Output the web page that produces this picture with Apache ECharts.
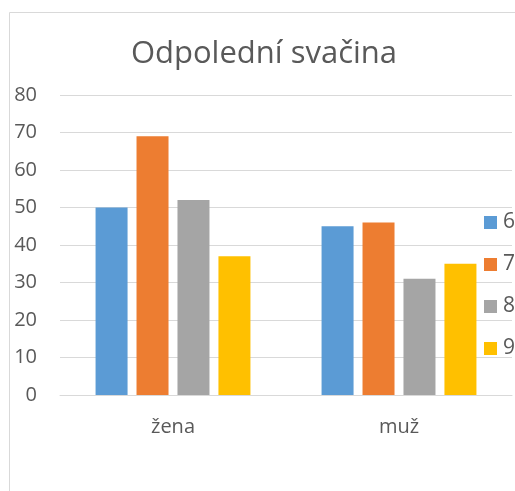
<!DOCTYPE html>
<html>
<head>
<meta charset="utf-8">
<script src="https://cdn.jsdelivr.net/npm/echarts@6/dist/echarts.min.js"></script>
<style>
  html, body { margin: 0; padding: 0; background: #fff; }
  #chart { width: 515px; height: 491px; }
</style>
</head>
<body>
<div id="chart"></div>
<script>
window.addEventListener("load", () => {
    // data
    const categories = ["žena", "muž"]
    const seriesNames = ["6", "7", "8", "9"]
    const values6 = [50, 45]
    const values7 = [69, 46]
    const values8 = [52, 31]
    const values9 = [37, 35]
    const colors = ["#5B9BD5", "#ED7D31", "#A5A5A5", "#FFC000"]

    const font = "Open Sans"
    const allValues = [values6, values7, values8, values9]

    let option = {
        backgroundColor: "#fff",
        animation: false,
        textStyle: { fontFamily: font },
        title: {
            text: "Odpolední svačina",
            left: 259,
            textAlign: "center",
            top: 34,
            textStyle: { color: "#595959", fontSize: 31, fontWeight: "normal", fontFamily: font }
        },
        legend: {
            orient: "vertical",
            left: 484,
            top: 212,
            padding: 0,
            itemWidth: 13,
            itemHeight: 13,
            itemGap: 21,
            icon: "rect",
            textStyle: { color: "#595959", fontSize: 21, padding: [0, 0, 0, 1] },
            data: seriesNames
        },
        grid: {
            left: 60,
            right: 3,
            top: 95,
            bottom: 96
        },
        xAxis: {
            type: "category",
            data: categories,
            axisTick: { show: false },
            axisLine: { lineStyle: { color: "#d9d9d9", width: 1 } },
            axisLabel: { color: "#595959", fontSize: 20, margin: 22 }
        },
        yAxis: {
            type: "value",
            min: 0,
            max: 80,
            interval: 10,
            axisLine: { show: false },
            axisTick: { show: false },
            splitLine: { lineStyle: { color: "#d9d9d9", width: 1 } },
            axisLabel: { color: "#595959", fontSize: 20, margin: 23 }
        },
        graphic: [{
            type: "rect",
            shape: { x: 9.5, y: 12.5, width: 700, height: 700 },
            style: { fill: "none", stroke: "#d9d9d9", lineWidth: 1 },
            silent: true,
            z: -1
        }],
        series: seriesNames.map((name, i) => ({
            name: name,
            type: "bar",
            data: allValues[i],
            barWidth: 32,
            barGap: "28%",
            itemStyle: { color: colors[i] }
        }))
    };

    echarts.init(document.getElementById("chart")).setOption(option);
})
</script>
</body>
</html>
